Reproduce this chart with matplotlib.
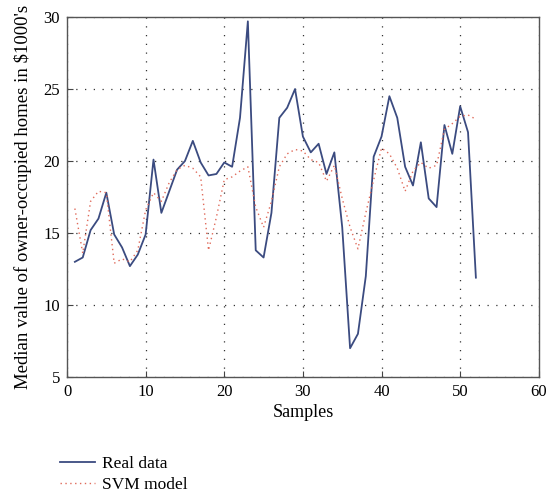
import numpy as np
import matplotlib
matplotlib.use('Agg')
import matplotlib.pyplot as plt

# values
samples = list(range(1, 53))
real_data = [13.0, 13.3, 15.2, 16.0, 17.8, 14.9, 14.0, 12.7, 13.5, 14.9,
             20.1, 16.4, 17.9, 19.4, 20.0, 21.4, 19.9, 19.0, 19.1, 19.9,
             19.6, 23.0, 29.7, 13.8, 13.3, 16.4, 23.0, 23.7, 25.0, 21.7,
             20.6, 21.2, 19.1, 20.6, 15.4, 7.0, 8.0, 12.0, 20.3, 21.7,
             24.5, 23.0, 19.6, 18.3, 21.3, 17.4, 16.8, 22.5, 20.5, 23.8,
             22.0, 11.9]
svm_model = [16.7, 13.6, 17.2, 17.9, 17.8, 12.9, 13.2, 13.0, 13.8, 16.6,
             17.8, 17.2, 18.5, 19.4, 19.7, 19.5, 18.9, 13.8, 16.1, 18.7,
             18.9, 19.3, 19.6, 16.8, 15.4, 17.2, 19.6, 20.5, 20.8, 20.7,
             20.1, 19.9, 18.6, 19.7, 17.4, 15.4, 13.9, 16.4, 18.7, 20.9,
             20.5, 19.5, 17.9, 19.3, 19.9, 19.5, 19.7, 22.2, 22.6, 23.1,
             23.2, 22.9]
x_ticks = [0, 10, 20, 30, 40, 50, 60]
y_ticks = [5, 10, 15, 20, 25, 30]

plt.rcParams['font.family'] = ['Liberation Serif', 'DejaVu Serif']
plt.rcParams['font.size'] = 11

fig = plt.figure(figsize=(5.47, 4.92), dpi=100)
ax = fig.add_axes([0.1225, 0.2337, 0.8625, 0.7317])

l1, = ax.plot(samples, real_data, color='#3b4b80', lw=1.3, label='Real data')
l2, = ax.plot(samples, svm_model, color='#e06a5a', lw=1.0,
              linestyle=(0, (1, 2.5)), label='SVM model')

ax.set_xlim(0, 60)
ax.set_ylim(5, 30)
ax.set_xticks(x_ticks)
ax.set_yticks(y_ticks)
ax.grid(True, color='#333333', linestyle=(0, (1, 6)), lw=0.9)
ax.tick_params(direction='in', length=4, color='#444444', labelsize=12, pad=5)
for s in ax.spines.values():
    s.set_color('#555555')
    s.set_linewidth(1.0)

ax.set_xlabel('Samples', fontsize=13, labelpad=3)
ax.set_ylabel("Median value of owner-occupied homes in \\$1000's", fontsize=13.5, labelpad=8)

fig.legend(handles=[l1, l2], loc='upper left', bbox_to_anchor=(0.11, 0.074),
           frameon=False, fontsize=12.5, handlelength=2.0, handletextpad=0.4,
           labelspacing=0.3, borderaxespad=0, borderpad=0)

fig.savefig('out.png', dpi=100)
